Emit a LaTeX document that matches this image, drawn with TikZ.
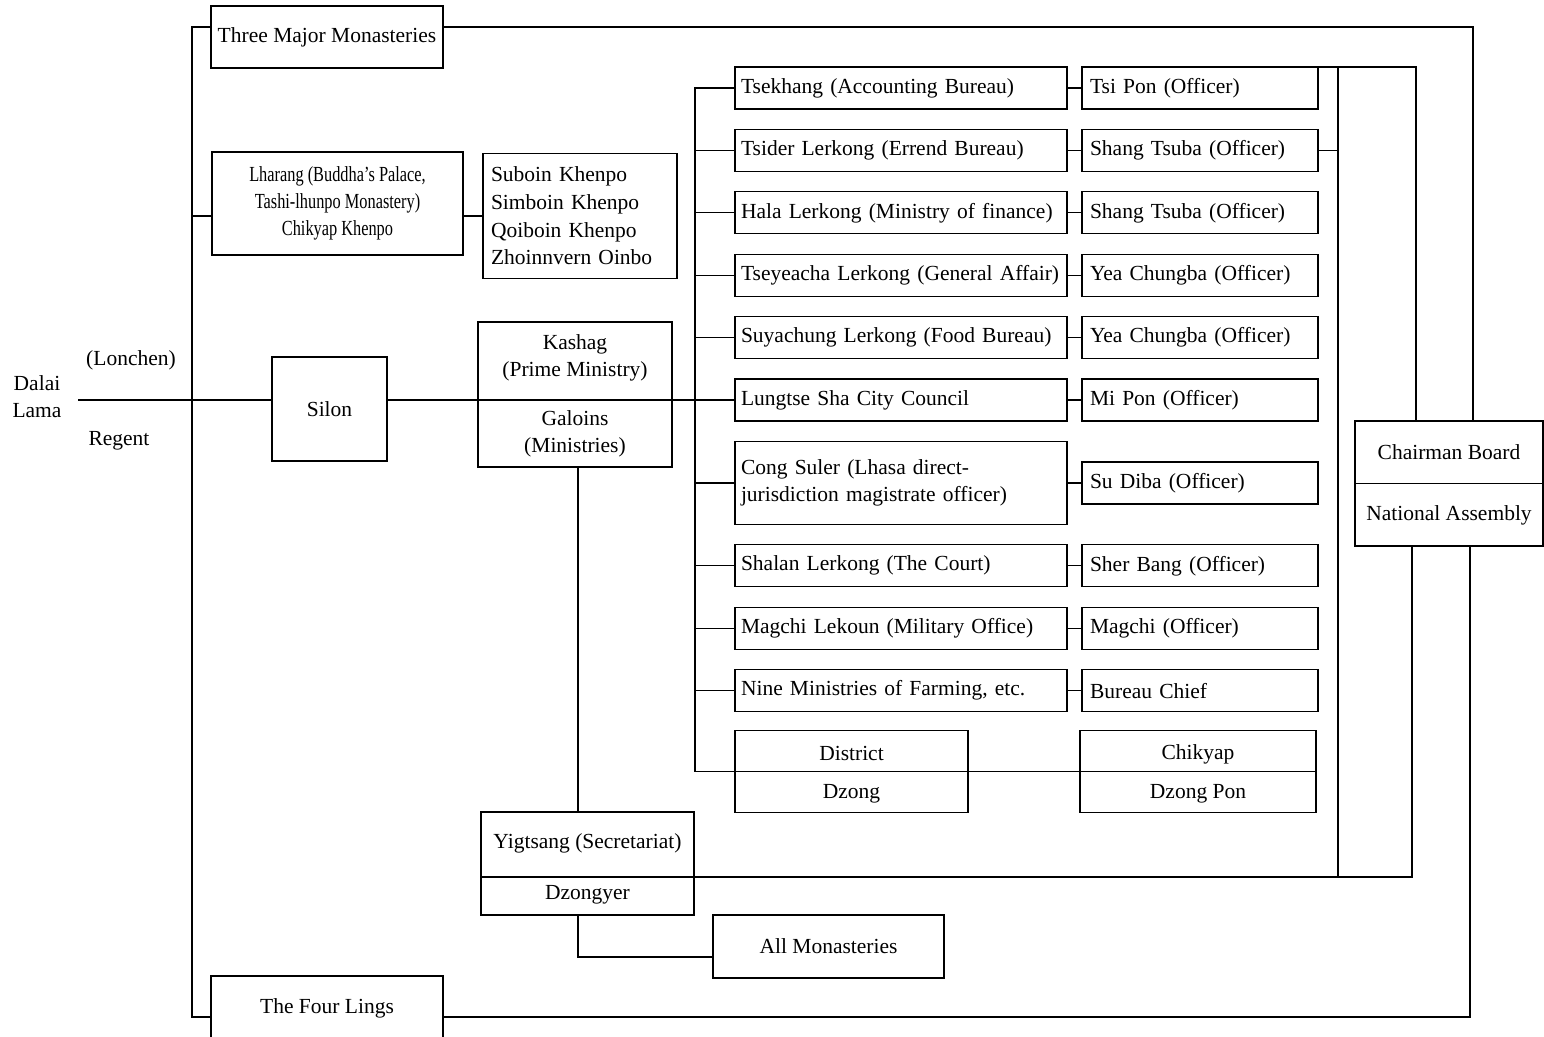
\documentclass[tikz,border=0pt]{standalone}
\usepackage{fontspec}
\setmainfont{Liberation Serif}
\usepackage{graphicx}
\usetikzlibrary{positioning}

\newcommand{\narrowtext}[1]{\scalebox{0.76}[1]{#1}}

\begin{document}
\begin{tikzpicture}[
  x=1pt, y=-1pt,
  node distance=20.4pt,
  line width=1.2pt,
  every node/.style={font=\fontsize{21.5}{27}\selectfont, align=center, inner sep=0pt, outer sep=0pt},
  box/.style={draw},
  office/.style={box, minimum width=332pt, minimum height=42pt, text width=320pt, align=left},
  officer/.style={box, minimum width=236pt, minimum height=42pt, text width=220pt, align=left},
  splitbox/.style={box, minimum width=#1, minimum height=82pt}
]
\useasboundingbox (0,0) rectangle (1544,1036);

\node[box, minimum width=232pt, minimum height=62pt] (tmm) at (327,37) {Three Major Monasteries};
\node[box, minimum width=251pt, minimum height=103pt] (lhr) at (337.5,203.5) {\narrowtext{Lharang (Buddha's Palace,}\\\narrowtext{Tashi-lhunpo Monastery)}\\\narrowtext{Chikyap Khenpo}};
\node[box, minimum width=194pt, minimum height=125pt, text width=178pt, align=left, font=\fontsize{21.5}{27.7}\selectfont] (khp) at (580,216) {Suboin Khenpo\\Simboin Khenpo\\Qoiboin Khenpo\\Zhoinnvern Oinbo};

\node[minimum width=82pt] (dl) at (37,397) {Dalai\\Lama};
\node (lonchen) at (131,360) {(Lonchen)};
\node (regent) at (119,441) {Regent};
\node[box, minimum width=115pt, minimum height=104pt] (sil) at (329.5,409) {Silon};
\node[box, minimum width=194pt, minimum height=145pt] (ksh) at (575,394.5) {};
\node (kshtop) at (575,358) {Kashag\\(Prime Ministry)};
\node (kshbot) at (575,434) {Galoins\\(Ministries)};

% bureaus
\node[office] (m1) at (901,88) {Tsekhang (Accounting Bureau)};
\node[office, below=of m1] (m2) {Tsider Lerkong (Errend Bureau)};
\node[office, below=of m2] (m3) {Hala Lerkong (Ministry of finance)};
\node[office, below=of m3] (m4) {Tseyeacha Lerkong (General Affair)};
\node[office, below=of m4] (m5) {Suyachung Lerkong (Food Bureau)};
\node[office, below=of m5] (m6) {Lungtse Sha City Council};
\node[office, below=of m6, minimum height=83pt] (m7) {Cong Suler (Lhasa direct-\\jurisdiction magistrate officer)};
\node[office, below=of m7] (m8) {Shalan Lerkong (The Court)};
\node[office, below=of m8] (m9) {Magchi Lekoun (Military Office)};
\node[office, below=of m9] (m10) {Nine Ministries of Farming, etc.};
\node[splitbox=233pt, anchor=north west] (dz) at ([yshift=-19pt]m10.south west) {};
\node (dzt) at ([yshift=18pt]dz.center) {District};
\node (dzb) at ([yshift=-22pt]dz.center) {Dzong};

% officers
\node[officer, right=15pt of m1] (o1) {Tsi Pon (Officer)};
\node[officer, right=15pt of m2] (o2) {Shang Tsuba (Officer)};
\node[officer, right=15pt of m3] (o3) {Shang Tsuba (Officer)};
\node[officer, right=15pt of m4] (o4) {Yea Chungba (Officer)};
\node[officer, right=15pt of m5] (o5) {Yea Chungba (Officer)};
\node[officer, right=15pt of m6] (o6) {Mi Pon (Officer)};
\node[officer, right=15pt of m7] (o7) {Su Diba (Officer)};
\node[officer, right=15pt of m8] (o8) {Sher Bang (Officer)};
\node[officer, right=15pt of m9] (o9) {Magchi (Officer)};
\node[officer, right=15pt of m10] (o10) {Bureau Chief};
\node[splitbox=236pt, right=112pt of dz] (chk) {};
\node (chkt) at ([yshift=17pt]chk.center) {Chikyap};
\node (chkb) at ([yshift=-22pt]chk.center) {Dzong Pon};

\node[box, minimum width=188pt, minimum height=125pt] (chb) at (1449,483.5) {};
\node (chbt) at (1449,452) {Chairman Board};
\node (chbb) at (1449,515) {National Assembly};

\node[box, minimum width=213pt, minimum height=103pt] (yig) at (587.5,863.5) {};
\node (yigt) at (587.5,843) {Yigtsang (Secretariat)};
\node (yigb) at (587.5,895) {Dzongyer};
\node[box, minimum width=231pt, minimum height=63pt] (allm) at (828.5,946.5) {All Monasteries};
\node[box, minimum width=232pt, minimum height=64pt] (fourl) at (327,1008) {The Four Lings};

% left side
\draw ([yshift=10pt]tmm.west) -- ++(-19,0) |- ([yshift=-9pt]fourl.west);
\draw (lhr.west |- khp.west) -- ++(-20,0);
\draw (lhr.east |- khp.west) -- (khp.west);
\draw (dl.east |- m6.west) -- (sil.west |- m6.west);
\draw (sil.east |- m6.west) -- (m6.west);
\draw ([xshift=3pt]ksh.south) -- ([xshift=-9.5pt]yig.north);
\draw ([xshift=-9.5pt]yig.south) |- ([yshift=-10.5pt]allm.west);

% bureau bus
\draw (m1.west) -- ++(-40,0) |- (chk.east);
\draw (m2.west) -- ++(-40,0);
\draw (m3.west) -- ++(-40,0);
\draw (m4.west) -- ++(-40,0);
\draw (m5.west) -- ++(-40,0);
\draw (m7.west) -- ++(-40,0);
\draw (m8.west) -- ++(-40,0);
\draw (m9.west) -- ++(-40,0);
\draw (m10.west) -- ++(-40,0);
\draw (m1) -- (o1);
\draw (m2) -- (o2);
\draw (m3) -- (o3);
\draw (m4) -- (o4);
\draw (m5) -- (o5);
\draw (m6) -- (o6);
\draw (m7) -- (o7);
\draw (m8) -- (o8);
\draw (m9) -- (o9);
\draw (m10) -- (o10);

% right side
\draw ([yshift=10pt]tmm.east) -| ([xshift=24pt]chb.north);
\draw (o1.north east) -| ([xshift=-33pt]chb.north);
\draw ([xshift=20pt]o1.north east) -- ++(0,810);
\draw (o2.east) -- ++(20,0);
\draw ([yshift=-13.5pt]yig.west) -| ([xshift=-37pt]chb.south);
\draw ([yshift=-9pt]fourl.east) -| ([xshift=21pt]chb.south);
\draw (chb.west) -- (chb.east);
\end{tikzpicture}
\end{document}
